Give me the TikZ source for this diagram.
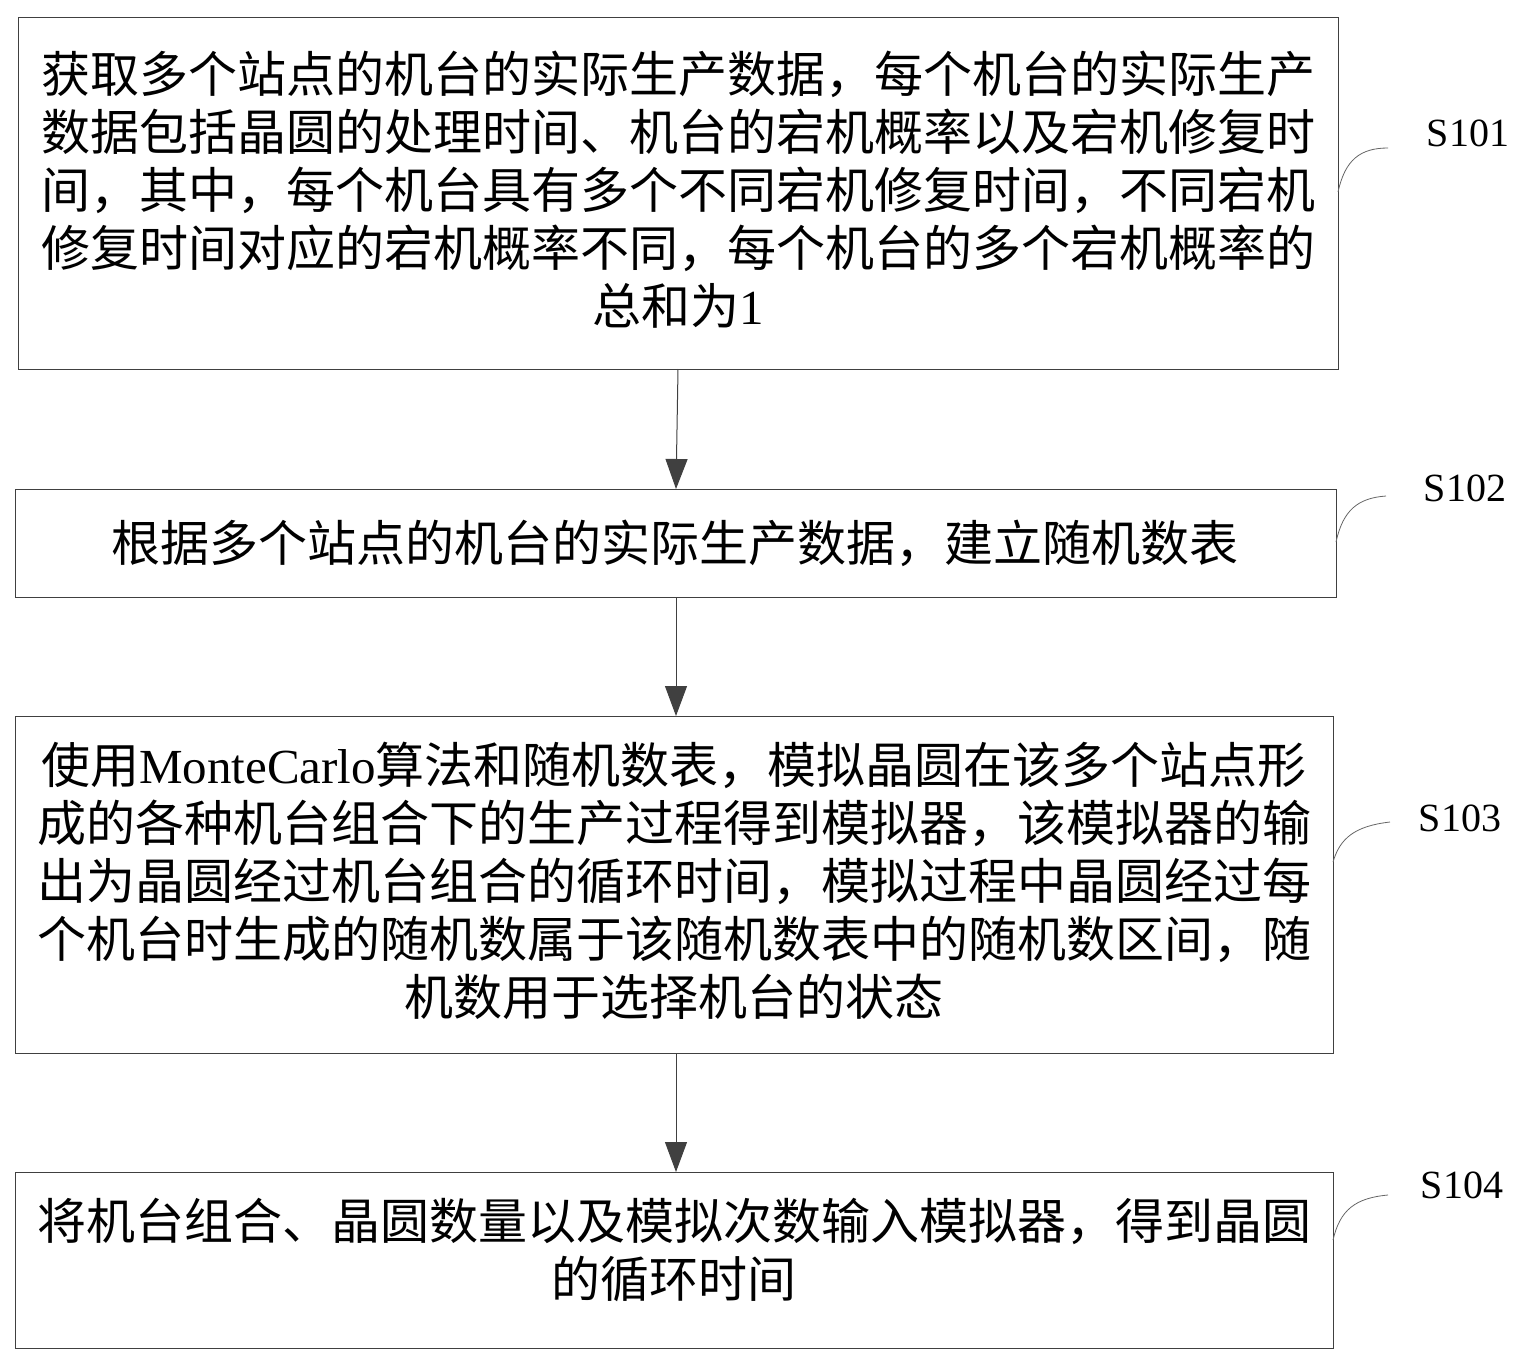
\documentclass[tikz,border=0pt]{standalone}
\usepackage{fontspec}
\setmainfont{Liberation Serif}
\newfontfamily\cjk{Noto Sans CJK SC}
\usetikzlibrary{arrows.meta}
\begin{document}
\begin{tikzpicture}[x=1pt,y=-1pt,
 box/.style={draw=black!75,line width=1pt},
 txt/.style={align=center,font=\fontsize{49}{58}\selectfont\cjk,inner sep=0pt},
 lab/.style={font=\fontsize{40}{40}\selectfont,inner sep=0pt},
 arr/.style={draw=black!75,line width=1pt,-{Triangle[length=30pt,width=22pt]}},
 crv/.style={draw=black!60,line width=0.8pt}]
\useasboundingbox (0,0) rectangle (1536,1368);
\draw[box] (18,17) rectangle (1338,369);
\draw[box] (15,489) rectangle (1336,597);
\draw[box] (15,716) rectangle (1333,1053);
\draw[box] (15,1172) rectangle (1333,1348);
\node[txt] (t1) at (678,190) {获取多个站点的机台的实际生产数据，每个机台的实际生产\\数据包括晶圆的处理时间、机台的宕机概率以及宕机修复时\\间，其中，每个机台具有多个不同宕机修复时间，不同宕机\\修复时间对应的宕机概率不同，每个机台的多个宕机概率的\\总和为{\rmfamily 1}};
\node[txt] (t2) at (675,543) {根据多个站点的机台的实际生产数据，建立随机数表};
\node[txt] (t3) at (674,881) {使用{\rmfamily MonteCarlo}算法和随机数表，模拟晶圆在该多个站点形\\成的各种机台组合下的生产过程得到模拟器，该模拟器的输\\出为晶圆经过机台组合的循环时间，模拟过程中晶圆经过每\\个机台时生成的随机数属于该随机数表中的随机数区间，随\\机数用于选择机台的状态};
\node[txt] (t4) at (674,1250) {将机台组合、晶圆数量以及模拟次数输入模拟器，得到晶圆\\的循环时间};
\coordinate (a1) at (678,369); \coordinate (a2) at (676,489);
\coordinate (a3) at (676,597); \coordinate (a4) at (676,716);
\coordinate (a5) at (676,1053); \coordinate (a6) at (676,1172);
\draw[arr] (a1) -- (a2);
\draw[arr] (a3) -- (a4);
\draw[arr] (a5) -- (a6);
\node[lab] (s1) at (1468,133) {S101};
\node[lab] (s2) at (1465,488) {S102};
\node[lab] (s3) at (1460,818) {S103};
\node[lab] (s4) at (1462,1185) {S104};
\draw[crv] (1338,192) .. controls (1345,160) and (1360,148) .. (1388,148);
\draw[crv] (1336,542) .. controls (1343,510) and (1358,498) .. (1386,496);
\draw[crv] (1333,862) .. controls (1340,838) and (1355,826) .. (1390,822);
\draw[crv] (1333,1240) .. controls (1340,1210) and (1355,1198) .. (1388,1195);
\end{tikzpicture}
\end{document}
